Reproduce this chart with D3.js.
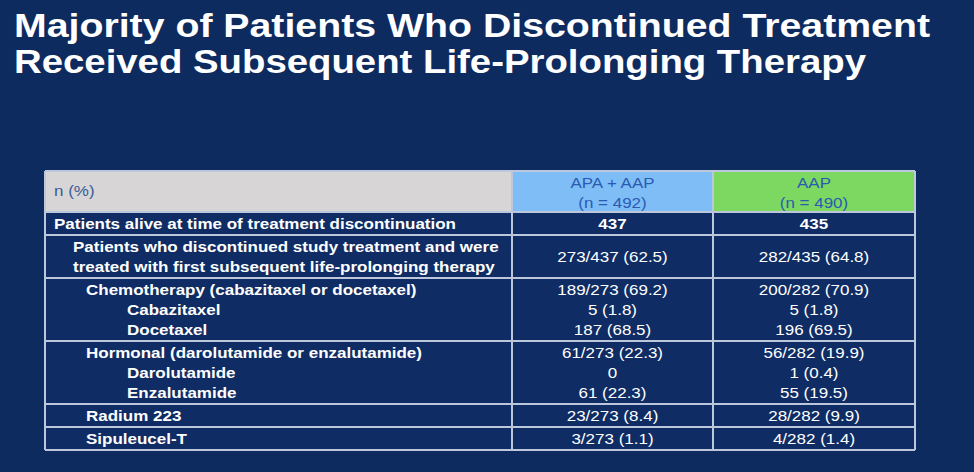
<!DOCTYPE html>
<html><head><meta charset="utf-8">
<script src="https://cdn.jsdelivr.net/npm/d3@7"></script>
<style>html,body{margin:0;padding:0;background:#0e2b5f;}svg{display:block;}</style>
</head><body>
<svg id="c" width="974" height="472"></svg>
<script>
// ---- data ----
const titleLines = ["Majority of Patients Who Discontinued Treatment", "Received Subsequent Life-Prolonging Therapy"];
const headerLabel = "n (%)";
const armNames = ["APA + AAP", "AAP"];
const armNs = ["(n = 492)", "(n = 490)"];
const rowLabels = [
  "Patients alive at time of treatment discontinuation",
  "Patients who discontinued study treatment and were|treated with first subsequent life-prolonging therapy",
  "Chemotherapy (cabazitaxel or docetaxel)",
  "Cabazitaxel",
  "Docetaxel",
  "Hormonal (darolutamide or enzalutamide)",
  "Darolutamide",
  "Enzalutamide",
  "Radium 223",
  "Sipuleucel-T"
];
const rowLevels = [0, 1, 2, 3, 3, 2, 3, 3, 2, 2];
const rowGroups = [0, 1, 2, 2, 2, 3, 3, 3, 4, 5];
const apaValues = ["437", "273/437 (62.5)", "189/273 (69.2)", "5 (1.8)", "187 (68.5)", "61/273 (22.3)", "0", "61 (22.3)", "23/273 (8.4)", "3/273 (1.1)"];
const aapValues = ["435", "282/435 (64.8)", "200/282 (70.9)", "5 (1.8)", "196 (69.5)", "56/282 (19.9)", "1 (0.4)", "55 (19.5)", "28/282 (9.9)", "4/282 (1.4)"];
const boldValueRows = [0];

(function () {
const svg = d3.select("#c");
const W = 974, H = 472;
const font = "'Liberation Sans', Arial, sans-serif";
svg.append("rect").attr("width", W).attr("height", H).attr("fill", "#0e2b5f");

// horizontal stretch helper (slide was captured wider than tall)
function stretch(sel, k) {
  sel.each(function () {
    const len = this.getComputedTextLength();
    d3.select(this).attr("textLength", len * k).attr("lengthAdjust", "spacingAndGlyphs");
  });
}

// title
const titleW = [916, 852];
svg.selectAll("text.title").data(titleLines).join("text")
  .attr("class", "title")
  .attr("x", 14).attr("y", (d, i) => 37 + i * 36)
  .attr("fill", "#ffffff").attr("font-family", font).attr("font-weight", "bold")
  .attr("font-size", 34)
  .attr("textLength", (d, i) => titleW[i]).attr("lengthAdjust", "spacingAndGlyphs")
  .text(d => d);

const tLeft = 45, tRight = 915, tTop = 171, headerBottom = 212;
const colX = d3.scaleOrdinal().domain(["label", "apa", "aap"]).range([tLeft, 512, 713]);
const colW = {label: 512 - tLeft, apa: 713 - 512, aap: tRight - 713};

const lineH = 20, pad = 1.5;
const rowLines = rowLabels.map(l => l.split("|").length);
const groupIds = d3.range(d3.max(rowGroups) + 1);
const groupLines = groupIds.map(g => d3.sum(rowLines.filter((n, i) => rowGroups[i] === g)));
const groupH = groupLines.map(n => n * lineH + pad * 2);
const groupTop = [];
let acc = headerBottom;
groupH.forEach((h) => { groupTop.push(acc); acc += h; });
const tableBottom = acc;

const rowY = [];
{
  let curG = -1, off = 0;
  rowLabels.forEach((l, i) => {
    const g = rowGroups[i];
    if (g !== curG) { curG = g; off = groupTop[g] + pad; }
    rowY.push(off + lineH / 2);
    off += rowLines[i] * lineH;
  });
}

svg.append("rect").attr("x", tLeft).attr("y", tTop).attr("width", tRight - tLeft).attr("height", tableBottom - tTop)
  .attr("fill", "#0f2d64");

const headerFills = ["#d7d5d5", "#7fbdf7", "#7dd862"];
["label", "apa", "aap"].forEach((k, i) => {
  svg.append("rect").attr("x", colX(k)).attr("y", tTop).attr("width", colW[k]).attr("height", headerBottom - tTop)
    .attr("fill", headerFills[i]);
});

const fs = 14.5;
const hdr = svg.append("text").attr("x", 54).attr("y", 196).attr("fill", "#3a5c98")
  .attr("font-family", font).attr("font-size", fs).text(headerLabel);

const hdrTexts = [];
["apa", "aap"].forEach((k, i) => {
  const cx = colX(k) + colW[k] / 2;
  [armNames[i], armNs[i]].forEach((s, j) => {
    hdrTexts.push(svg.append("text").attr("x", cx).attr("y", 188 + j * 20).attr("text-anchor", "middle")
      .attr("fill", "#2a5bb0").attr("font-family", font).attr("font-size", fs).text(s).node());
  });
});

const indentX = [54, 73, 86, 127];
const labelNodes = [];
rowLabels.forEach((l, i) => {
  l.split("|").forEach((p, j) => {
    labelNodes.push(svg.append("text").attr("x", indentX[rowLevels[i]]).attr("y", rowY[i] + j * lineH + 5)
      .attr("fill", "#ffffff").attr("font-family", font).attr("font-weight", "bold")
      .attr("font-size", fs).text(p).node());
  });
});

const valueNodes = [];
[["apa", apaValues], ["aap", aapValues]].forEach(([k, vals]) => {
  const cx = colX(k) + colW[k] / 2;
  vals.forEach((v, i) => {
    const yy = rowLines[i] > 1 ? rowY[i] + (rowLines[i] - 1) * lineH / 2 : rowY[i];
    valueNodes.push(svg.append("text").attr("x", cx).attr("y", yy + 5).attr("text-anchor", "middle")
      .attr("fill", "#ffffff").attr("font-family", font).attr("font-size", fs)
      .attr("font-weight", boldValueRows.includes(i) ? "bold" : "normal")
      .text(v).node());
  });
});

// stretch factor from first label width in reference (402px)
const k = 402 / labelNodes[0].getComputedTextLength();
stretch(d3.selectAll(labelNodes), k);
stretch(d3.selectAll(valueNodes), k);
stretch(d3.selectAll(hdrTexts), k);
stretch(hdr, k);

const lineColor = "#bcc7dc";
const hLines = [tTop, headerBottom].concat(groupTop.slice(1)).concat([tableBottom]);
svg.selectAll("line.h").data(hLines).join("line").attr("class", "h")
  .attr("x1", tLeft).attr("x2", tRight).attr("y1", d => d).attr("y2", d => d)
  .attr("stroke", lineColor).attr("stroke-width", 2);
const vLines = [tLeft, colX("apa"), colX("aap"), tRight];
svg.selectAll("line.v").data(vLines).join("line").attr("class", "v")
  .attr("x1", d => d).attr("x2", d => d).attr("y1", tTop).attr("y2", tableBottom)
  .attr("stroke", lineColor).attr("stroke-width", 2);
})();
</script>
</body></html>
